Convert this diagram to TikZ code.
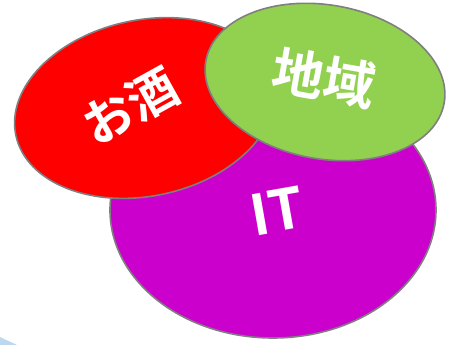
\documentclass[tikz,border=0pt]{standalone}
\usepackage{fontspec}
\newfontfamily\cjk{Noto Sans CJK JP Bold}
\usetikzlibrary{shapes.geometric}
\definecolor{redfill}{HTML}{FF0000}
\definecolor{magfill}{HTML}{CC00CC}
\definecolor{grnfill}{HTML}{92D050}
\definecolor{edge}{HTML}{7F7F7F}
\definecolor{paleblue}{HTML}{BDD7EE}
\begin{document}
\begin{tikzpicture}[x=1pt,y=1pt,
  blob/.style={ellipse, draw=edge, line width=1.6pt, inner sep=0pt},
  label/.style={text=white, font=\cjk, inner sep=0pt}]
\useasboundingbox (0,0) rectangle (451,-345);
\fill[paleblue] (0,-337) .. controls (6,-340) and (11,-342) .. (17,-345) -- (0,-345) -- cycle;
\node[blob, fill=magfill, minimum width=326pt, minimum height=256pt] (it) at (273,-210) {};
\node[blob, fill=redfill, minimum width=264pt, minimum height=176pt, rotate=12] (sake) at (145,-108) {};
\node[blob, fill=grnfill, minimum width=242pt, minimum height=154pt, rotate=-10] (area) at (325,-82) {};
\node[label, rotate=29, font=\cjk\fontsize{50}{50}\selectfont] (tsake) at (130,-106) {お酒};
\node[label, rotate=-10, font=\cjk\fontsize{52}{52}\selectfont] (tarea) at (324,-78) {地域};
\node[label, rotate=10, font=\cjk\fontsize{56}{56}\selectfont] (tit) at (277,-211) {IT};
\end{tikzpicture}
\end{document}
